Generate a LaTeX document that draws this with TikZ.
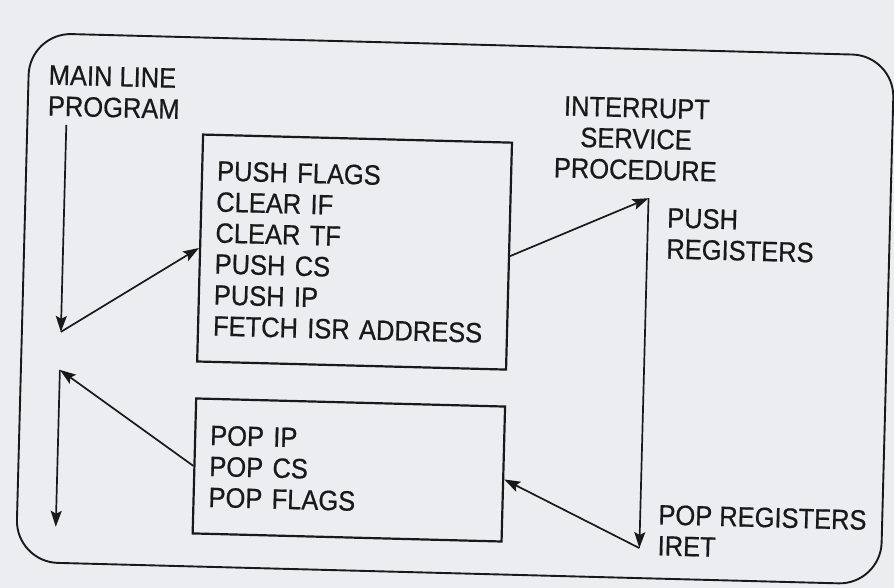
\documentclass[tikz,border=0pt]{standalone}
\usepackage{fontspec}
\setmainfont{Liberation Sans}[FakeStretch=0.91, FakeBold=0.6]
\usetikzlibrary{arrows.meta}
\definecolor{paper}{RGB}{236,237,240}
\definecolor{ink}{RGB}{25,25,25}

\begin{document}
\begin{tikzpicture}[x=1pt,y=-1pt,
  txt/.style={font=\fontsize{28pt}{31pt}\selectfont, text=ink, inner sep=0pt},
  stepbox/.style={draw=ink, line width=2.2pt, minimum width=309pt,
    text width=279pt, inner xsep=15pt, align=left, text=ink,
    font=\fontsize{28pt}{31pt}\selectfont},
  outline/.style={draw=ink, line width=1.9pt, rounded corners=42pt},
  flow/.style={draw=ink, line width=1.7pt,
    -{Stealth[length=16pt,width=11pt,inset=3pt]}}]

% paper
\fill[paper] (0,0) rectangle (894,588);
\useasboundingbox (0,0) rectangle (894,588);

\begin{scope}[rotate around={-1.5:(447,294)}, transform shape]
  % outer frame
  \draw[outline] (23,44) rectangle (888,573);

  % labels
  \node[txt, anchor=north west, align=left] (mainlbl) at (43,75.5) {MAIN LINE\\PROGRAM};
  \node[txt, anchor=north, align=center] (isrlbl) at (632,93) {INTERRUPT\\SERVICE\\PROCEDURE};
  \node[txt, anchor=north west, align=left] (pushlbl) at (665,202) {PUSH\\REGISTERS};
  \node[txt, anchor=north west, align=left] (poplbl) at (664,499) {POP REGISTERS\\IRET};

  % processor action boxes
  \node[stepbox, minimum height=227pt] (push) at (353.5,254.5)
    {PUSH FLAGS\\CLEAR IF\\CLEAR TF\\PUSH CS\\PUSH IP\\FETCH ISR ADDRESS};
  \node[stepbox, minimum height=135pt] (pop) at (353.5,472.5)
    {POP IP\\POP CS\\POP FLAGS};

  % turning points of the flow
  \coordinate (mstart) at (62,135);
  \coordinate (turnA) at (62,342);
  \coordinate (turnB) at (646,193);
  \coordinate (turnC) at (646,543);
  \coordinate (turnD) at (62,380);
  \coordinate (mend) at (62,537);

  % flow of control
  \draw[flow] (mstart) -- (turnA);
  \draw[flow] (turnA) -- (push.west);
  \draw[flow] (push.east) -- (turnB);
  \draw[flow] (turnB) -- (turnC);
  \draw[flow] (turnC) -- (pop.-2);
  \draw[flow] (pop.west) -- (turnD);
  \draw[flow] (turnD) -- (mend);
\end{scope}
\end{tikzpicture}
\end{document}
